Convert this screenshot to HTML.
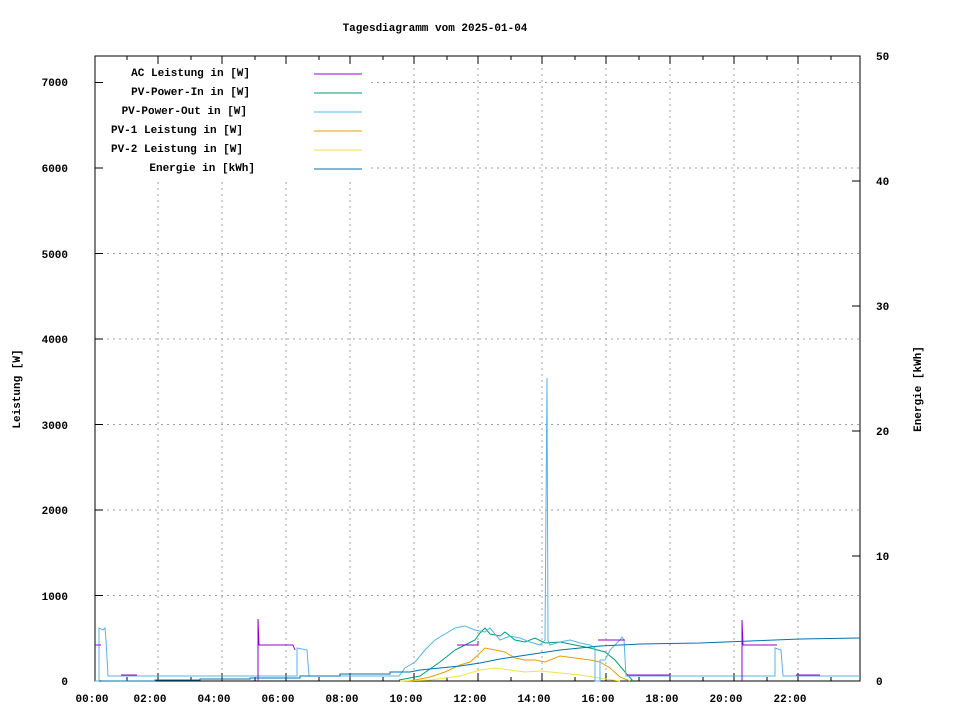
<!DOCTYPE html>
<html><head><meta charset="utf-8"><style>
body{margin:0;background:#fff}
svg text{font-family:"Liberation Mono",monospace;font-size:11px;font-weight:bold;fill:#000}
</style></head><body>
<svg width="960" height="720" xmlns="http://www.w3.org/2000/svg">
<rect width="960" height="720" fill="#fff"/>
<text x="435" y="31" text-anchor="middle">Tagesdiagramm vom 2025-01-04</text>
<g stroke="#a0a0a0" stroke-dasharray="2,4" stroke-width="1">
<line x1="95" y1="595.5" x2="860" y2="595.5"/><line x1="95" y1="510" x2="860" y2="510"/>
<line x1="95" y1="424.5" x2="860" y2="424.5"/><line x1="95" y1="339" x2="860" y2="339"/>
<line x1="95" y1="253.5" x2="860" y2="253.5"/><line x1="95" y1="168" x2="860" y2="168"/>
<line x1="95" y1="82.5" x2="860" y2="82.5"/>
<line x1="158" y1="56" x2="158" y2="681"/><line x1="222" y1="56" x2="222" y2="681"/>
<line x1="286" y1="56" x2="286" y2="681"/><line x1="350" y1="56" x2="350" y2="681"/>
<line x1="414" y1="56" x2="414" y2="681"/><line x1="478" y1="56" x2="478" y2="681"/>
<line x1="542" y1="56" x2="542" y2="681"/><line x1="606" y1="56" x2="606" y2="681"/>
<line x1="670" y1="56" x2="670" y2="681"/><line x1="734" y1="56" x2="734" y2="681"/>
<line x1="798" y1="56" x2="798" y2="681"/>
</g>
<rect x="97" y="58" width="272" height="120" fill="#fff"/>
<g stroke="#000" stroke-width="1">
<rect x="95" y="56" width="765" height="625" fill="none"/>
<path d="M95 595.5h8M95 510h8M95 424.5h8M95 339h8M95 253.5h8M95 168h8M95 82.5h8
M860 56h-8M860 181h-8M860 306h-8M860 431h-8M860 556h-8
M158 681v-8M222 681v-8M286 681v-8M350 681v-8M414 681v-8M478 681v-8M542 681v-8M606 681v-8M670 681v-8M734 681v-8M798 681v-8
M127 681v-4M191 681v-4M255 681v-4M319 681v-4M383 681v-4M447 681v-4M511 681v-4M575 681v-4M639 681v-4M703 681v-4M767 681v-4M831 681v-4
M158 56v8M222 56v8M286 56v8M350 56v8M414 56v8M478 56v8M542 56v8M606 56v8M670 56v8M734 56v8M798 56v8
M127 56v4M191 56v4M255 56v4M319 56v4M383 56v4M447 56v4M511 56v4M575 56v4M639 56v4M703 56v4M767 56v4M831 56v4"/>
</g>
<g text-anchor="end">
<text x="68" y="685">0</text><text x="68" y="600">1000</text><text x="68" y="514">2000</text>
<text x="68" y="429">3000</text><text x="68" y="343">4000</text><text x="68" y="258">5000</text>
<text x="68" y="172">6000</text><text x="68" y="86">7000</text>
</g>
<g>
<text x="876" y="685">0</text><text x="876" y="560">10</text><text x="876" y="435">20</text>
<text x="876" y="310">30</text><text x="876" y="185">40</text><text x="876" y="60">50</text>
</g>
<g text-anchor="middle">
<text x="92" y="702">00:00</text><text x="150" y="702">02:00</text><text x="214" y="702">04:00</text>
<text x="278" y="702">06:00</text><text x="342" y="702">08:00</text><text x="406" y="702">10:00</text>
<text x="470" y="702">12:00</text><text x="534" y="702">14:00</text><text x="598" y="702">16:00</text>
<text x="662" y="702">18:00</text><text x="726" y="702">20:00</text><text x="790" y="702">22:00</text>
</g>
<text transform="translate(20,389) rotate(-90)" text-anchor="middle">Leistung [W]</text>
<text transform="translate(921,389) rotate(-90)" text-anchor="middle">Energie [kWh]</text>
<g text-anchor="end">
<text x="250" y="76">AC Leistung in [W]</text>
<text x="250" y="95">PV-Power-In in [W]</text>
<text x="247" y="114">PV-Power-Out in [W]</text>
<text x="243" y="133">PV-1 Leistung in [W]</text>
<text x="243" y="152">PV-2 Leistung in [W]</text>
<text x="255" y="171">Energie in [kWh]</text>
</g>
<g stroke-width="1" fill="none">
<line x1="314" y1="74" x2="362" y2="74" stroke="#9400d3"/>
<line x1="314" y1="93" x2="362" y2="93" stroke="#009e73"/>
<line x1="314" y1="112" x2="362" y2="112" stroke="#56b4e9"/>
<line x1="314" y1="131" x2="362" y2="131" stroke="#e69f00"/>
<line x1="314" y1="150" x2="362" y2="150" stroke="#f0e442"/>
<line x1="314" y1="169" x2="362" y2="169" stroke="#0072b2"/>
<polyline stroke="#f0e442" points="400,681 430,680 460,676 480,670 495,668 510,670 525,672 540,671 560,673 580,675 600,678 620,681"/>
<polyline stroke="#e69f00" points="410,681 430,677 445,672 460,665 470,662 478,655 485,648 495,650 505,652 515,658 525,660 535,660 545,662 560,656 575,658 590,660 600,662 610,668 620,677 630,681"/>
<polyline stroke="#009e73" points="399,680 420,676 440,662 455,650 465,645 475,640 480,633 485,628 490,634 500,636 505,632 515,640 525,642 535,638 545,643 560,642 575,645 590,648 605,652 615,660 625,672 633,681"/>
<polyline stroke="#56b4e9" points="95,681 99,681 99,628 103,630 105,628 106,640 108,676 297,676 297,648 307,650 309,676 399,676 405,668 415,662 425,650 435,640 445,634 455,628 465,626 475,630 485,632 490,628 500,640 510,636 520,638 530,642 540,645 545,640 547,378 548,640 550,645 560,642 570,640 580,643 590,645 595,648 595,681 600,681 600,660 605,660 610,650 620,640 622,637 624,640 626,676 775,676 775,648 781,650 783,676 860,676"/>
<polyline stroke="#9400d3" points="95,645 101,645"/>
<polyline stroke="#9400d3" points="121,675 137,675"/>
<polyline stroke="#9400d3" points="258,681 258,619 259,645 293,645 295,650"/>
<polyline stroke="#9400d3" points="457,645 478,645 478,641"/>
<polyline stroke="#9400d3" points="598,640 625,640"/>
<polyline stroke="#9400d3" points="627,675 670,675"/>
<polyline stroke="#9400d3" points="742,681 742,620 743,645 777,645"/>
<polyline stroke="#9400d3" points="796,675 820,675"/>
<polyline stroke="#0072b2" points="101,681 155,681 155,680 200,680 200,679 250,679 250,678 300,678 300,676 340,676 340,674 390,674 390,672 410,672 420,670 440,668 460,666 480,663 500,659 520,656 540,653 560,650 580,648 600,646 620,645 640,644 700,643 750,641 800,639 860,638"/>
</g>
</svg>
</body></html>
